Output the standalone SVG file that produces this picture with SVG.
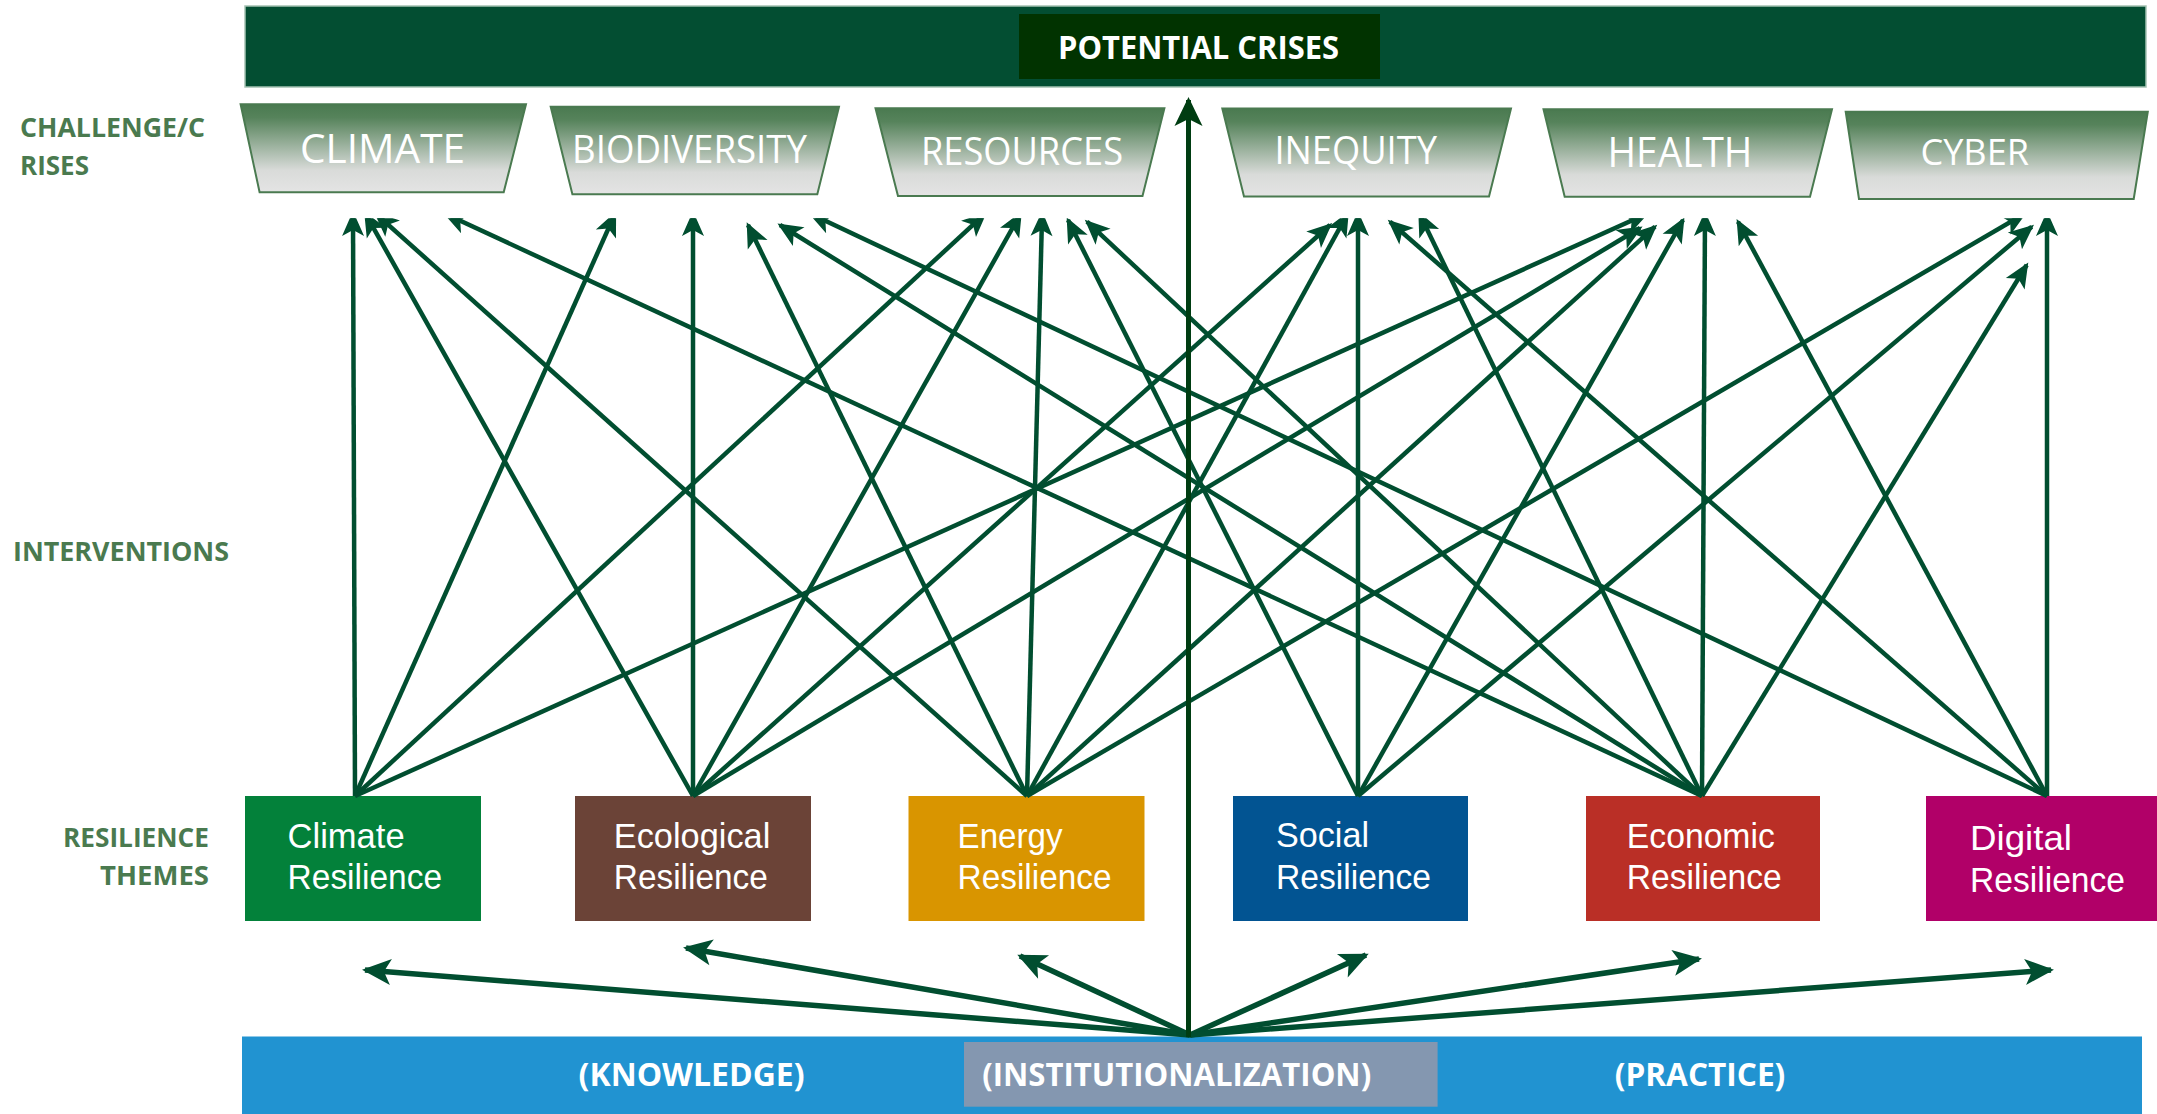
<svg xmlns="http://www.w3.org/2000/svg" width="2157" height="1114" viewBox="0 0 2157 1114">
<style>
.lbl{font-family:"Open Sans","Liberation Sans",sans-serif;font-weight:700;font-size:27px;fill:#4a7a4f}
.tz{font-family:"Open Sans","Liberation Sans",sans-serif;font-weight:400;fill:#ffffff;text-anchor:middle}
.rs{font-family:"Liberation Sans","Open Sans",sans-serif;font-weight:400;font-size:35px;fill:#ffffff}
.bb{font-family:"Open Sans","Liberation Sans",sans-serif;font-weight:700;font-size:32px;fill:#ffffff;text-anchor:middle}
.trap{fill:url(#tg);stroke:#4a7a50;stroke-width:2}
.net line{stroke:#014e30;stroke-width:4.5;marker-end:url(#ah)}
.fan line{stroke:#014e30;stroke-width:5.5;marker-end:url(#ah2)}
</style>
<defs>
<linearGradient id="tg" x1="0" y1="0" x2="0" y2="1">
<stop offset="0" stop-color="#4a7a50"/>
<stop offset="0.15" stop-color="#56835b"/>
<stop offset="0.75" stop-color="#d9dbd9"/>
<stop offset="1" stop-color="#e4e4e4"/>
</linearGradient>
<marker id="ah" viewBox="-26 -13 28 26" markerWidth="28" markerHeight="26" refX="-3" refY="0" orient="auto" markerUnits="userSpaceOnUse">
<path d="M0,0 L-25,-11 L-19,0 L-25,11 Z" fill="#014e30"/>
</marker>
<marker id="ah2" viewBox="-30 -15 32 30" markerWidth="32" markerHeight="30" refX="-3" refY="0" orient="auto" markerUnits="userSpaceOnUse">
<path d="M0,0 L-29,-13 L-22,0 L-29,13 Z" fill="#014e30"/>
</marker>
<marker id="ah3" viewBox="-30 -15 32 30" markerWidth="32" markerHeight="30" refX="-3" refY="0" orient="auto" markerUnits="userSpaceOnUse">
<path d="M0,0 L-29,-14 L-22,0 L-29,14 Z" fill="#003d12"/>
</marker>
<clipPath id="clipnet"><rect x="0" y="218.3" width="2157" height="896"/></clipPath>
</defs>

<rect width="2157" height="1114" fill="#ffffff"/>

<g id="potential-crises">
<rect x="245" y="6" width="1901" height="81" fill="#034e32" stroke="#a5c2b3" stroke-width="1.5"/>
<rect x="1019" y="14" width="361" height="65" fill="#013300"/>
<text class="bb" x="1198.5" y="59" textLength="281" lengthAdjust="spacingAndGlyphs">POTENTIAL CRISES</text>
</g>

<g id="row-labels">
<text class="lbl" x="20" y="137" textLength="185" lengthAdjust="spacingAndGlyphs">CHALLENGE/C</text>
<text class="lbl" x="20" y="175" textLength="69" lengthAdjust="spacingAndGlyphs">RISES</text>
<text class="lbl" x="13" y="561" textLength="216" lengthAdjust="spacingAndGlyphs">INTERVENTIONS</text>
<text class="lbl" x="63" y="847" textLength="146" lengthAdjust="spacingAndGlyphs">RESILIENCE</text>
<text class="lbl" x="100" y="885" textLength="109" lengthAdjust="spacingAndGlyphs">THEMES</text>
</g>

<g id="ch-climate">
<polygon class="trap" points="240.6,104.3 526,104.3 503.7,192.3 259.6,192.3"/>
<text class="tz" x="382.5" y="163" font-size="40" textLength="165" lengthAdjust="spacingAndGlyphs">CLIMATE</text>
</g>
<g id="ch-biodiversity">
<polygon class="trap" points="550.7,106.7 839,106.7 817.3,194.3 572.4,194.3"/>
<text class="tz" x="689.5" y="163" font-size="38" textLength="235" lengthAdjust="spacingAndGlyphs">BIODIVERSITY</text>
</g>
<g id="ch-resources">
<polygon class="trap" points="875.5,108.3 1164.4,108.3 1142.5,196 898,196"/>
<text class="tz" x="1022" y="165" font-size="39" textLength="202" lengthAdjust="spacingAndGlyphs">RESOURCES</text>
</g>
<g id="ch-inequity">
<polygon class="trap" points="1222.3,108.5 1511,108.5 1489,196.5 1244,196.5"/>
<text class="tz" x="1355.7" y="164" font-size="38" textLength="162.5" lengthAdjust="spacingAndGlyphs">INEQUITY</text>
</g>
<g id="ch-health">
<polygon class="trap" points="1543.5,109.3 1832,109.3 1810,196.7 1564.7,196.7"/>
<text class="tz" x="1680" y="167" font-size="42" textLength="145" lengthAdjust="spacingAndGlyphs">HEALTH</text>
</g>
<g id="ch-cyber">
<polygon class="trap" points="1845.7,111.7 2147.8,111.7 2133.7,199 1859,199"/>
<text class="tz" x="1974.7" y="165" font-size="36" textLength="108.5" lengthAdjust="spacingAndGlyphs">CYBER</text>
</g>

<g id="th-climate">
<rect x="245" y="796" width="236" height="125" fill="#03813a"/>
<text class="rs" x="287.6" y="848" textLength="117" lengthAdjust="spacingAndGlyphs">Climate</text>
<text class="rs" x="287.6" y="889" textLength="154.4" lengthAdjust="spacingAndGlyphs">Resilience</text>
</g>
<g id="th-ecological">
<rect x="575" y="796" width="236" height="125" fill="#6b4337"/>
<text class="rs" x="613.8" y="847.5" textLength="156.5" lengthAdjust="spacingAndGlyphs">Ecological</text>
<text class="rs" x="613.8" y="889" textLength="154" lengthAdjust="spacingAndGlyphs">Resilience</text>
</g>
<g id="th-energy">
<rect x="908.5" y="796" width="236" height="125" fill="#d99500"/>
<text class="rs" x="957.6" y="848" textLength="105" lengthAdjust="spacingAndGlyphs">Energy</text>
<text class="rs" x="957.6" y="889" textLength="154" lengthAdjust="spacingAndGlyphs">Resilience</text>
</g>
<g id="th-social">
<rect x="1233" y="796" width="235" height="125" fill="#025492"/>
<text class="rs" x="1276" y="847" textLength="93" lengthAdjust="spacingAndGlyphs">Social</text>
<text class="rs" x="1276" y="889" textLength="155" lengthAdjust="spacingAndGlyphs">Resilience</text>
</g>
<g id="th-economic">
<rect x="1586" y="796" width="234" height="125" fill="#ba2f26"/>
<text class="rs" x="1626.8" y="848" textLength="148" lengthAdjust="spacingAndGlyphs">Economic</text>
<text class="rs" x="1626.8" y="889" textLength="155" lengthAdjust="spacingAndGlyphs">Resilience</text>
</g>
<g id="th-digital">
<rect x="1926" y="796" width="236" height="125" fill="#b10068"/>
<text class="rs" x="1970" y="850" textLength="102" lengthAdjust="spacingAndGlyphs">Digital</text>
<text class="rs" x="1970" y="891.5" textLength="155" lengthAdjust="spacingAndGlyphs">Resilience</text>
</g>

<g id="foundation">
<rect x="242" y="1036.5" width="1900" height="80" fill="#2193d1"/>
<rect x="964" y="1042" width="473.6" height="64.7" fill="#8497b0"/>
<text class="bb" x="691.6" y="1086" textLength="226" lengthAdjust="spacingAndGlyphs">(KNOWLEDGE)</text>
<text class="bb" x="1176.7" y="1086" textLength="389" lengthAdjust="spacingAndGlyphs">(INSTITUTIONALIZATION)</text>
<text class="bb" x="1700" y="1086" textLength="170.6" lengthAdjust="spacingAndGlyphs">(PRACTICE)</text>
</g>

<g id="connectors">
<g class="net" clip-path="url(#clipnet)">
<line x1="355" y1="796" x2="353" y2="214"/>
<line x1="355" y1="796" x2="614.9" y2="214"/>
<line x1="355" y1="796" x2="984.7" y2="214"/>
<line x1="355" y1="796" x2="1646.2" y2="214"/>
<line x1="693" y1="796" x2="365.6" y2="214"/>
<line x1="693" y1="796" x2="693" y2="214"/>
<line x1="693" y1="796" x2="1020.4" y2="214"/>
<line x1="693" y1="796" x2="1330" y2="225"/>
<line x1="693" y1="796" x2="1640" y2="228"/>
<line x1="1027" y1="796" x2="376.2" y2="214"/>
<line x1="1027" y1="796" x2="748" y2="225"/>
<line x1="1027" y1="796" x2="1042.1" y2="214"/>
<line x1="1027" y1="796" x2="1347.4" y2="214"/>
<line x1="1027" y1="796" x2="1655" y2="226.7"/>
<line x1="1027" y1="796" x2="2024.1" y2="214"/>
<line x1="1358" y1="796" x2="1068" y2="220"/>
<line x1="1358" y1="796" x2="1358" y2="214"/>
<line x1="1358" y1="796" x2="1683" y2="220"/>
<line x1="1358" y1="796" x2="2031.7" y2="226.7"/>
<line x1="1702" y1="796" x2="445.7" y2="214"/>
<line x1="1702" y1="796" x2="780" y2="225"/>
<line x1="1702" y1="796" x2="1087" y2="221.7"/>
<line x1="1702" y1="796" x2="1419.6" y2="214"/>
<line x1="1702" y1="796" x2="1705" y2="214"/>
<line x1="1702" y1="796" x2="2026.7" y2="265"/>
<line x1="2047" y1="796" x2="810.9" y2="214"/>
<line x1="2047" y1="796" x2="1390" y2="221.7"/>
<line x1="2047" y1="796" x2="1738" y2="221.7"/>
<line x1="2047" y1="796" x2="2047" y2="214"/>
</g>
<g class="fan">
<line x1="1190" y1="1035" x2="365" y2="970"/>
<line x1="1190" y1="1035" x2="686" y2="948"/>
<line x1="1190" y1="1035" x2="1020" y2="956"/>
<line x1="1190" y1="1035" x2="1366" y2="955"/>
<line x1="1190" y1="1035" x2="1699" y2="959"/>
<line x1="1190" y1="1035" x2="2051" y2="970"/>
</g>
<line x1="1188.5" y1="1037" x2="1188.5" y2="100" stroke="#003d12" stroke-width="5" marker-end="url(#ah3)"/>
</g>
</svg>
